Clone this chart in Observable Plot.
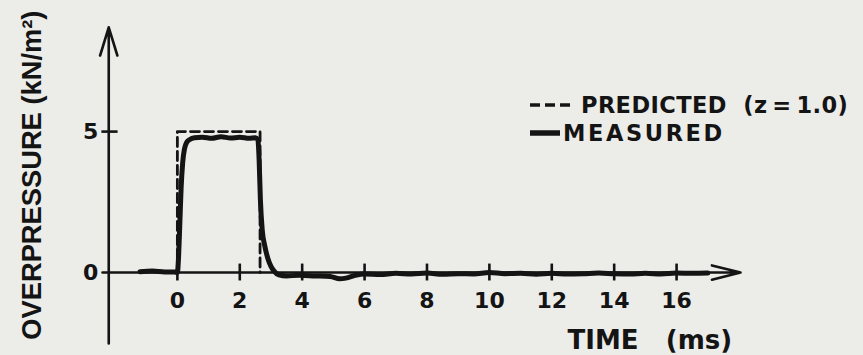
<!DOCTYPE html>
<html>
<head>
<meta charset="utf-8">
<script src="https://cdn.jsdelivr.net/npm/d3@7"></script>
<script src="https://cdn.jsdelivr.net/npm/@observablehq/plot@0.6"></script>
<style>
  html, body { margin: 0; padding: 0; background: #ecece9; }
  #wrap { position: relative; width: 863px; height: 355px; overflow: hidden; }
  #legend { position: absolute; left: 528px; top: 91px; font-family: "DejaVu Sans", sans-serif; font-weight: bold; color: #141414; font-size: 22.5px; letter-spacing: 0.4px; line-height: 28px; white-space: nowrap; }
  #legend .row { display: flex; align-items: center; }
  #legend svg { margin-right: 7px; }
  #legend .row.m svg { margin-right: 3px; }
  #legend .row.m span { letter-spacing: 2.6px; }
</style>
</head>
<body>
<div id="wrap"><div id="legend"></div></div>
<script>
// ---- data ----
const xTicks = [0, 2, 4, 6, 8, 10, 12, 14, 16];
const yTicks = [0, 5];
const xLabel = "TIME\u00a0\u00a0\u00a0(ms)";
const yLabel = "OVERPRESSURE (kN/m\u00b2)";
const legendLabels = ["PREDICTED\u00a0\u00a0(z\u2009=\u20091.0)", "MEASURED"];

// predicted (dashed) pulse
const timePredicted = [0, 0, 2.65, 2.65];
const pressPredicted = [0, 5, 5, 0];

// measured trace
const timeMeasured = [-1.2, -0.8, -0.4, -0.1, 0.0, 0.04, 0.08, 0.12, 0.17, 0.23, 0.3, 0.4, 0.55, 0.8, 1.1, 1.4, 1.7, 2.0, 2.3, 2.5, 2.58, 2.62, 2.66, 2.72, 2.8, 2.9, 3.0, 3.1, 3.25, 3.5, 3.9, 4.4, 4.9, 5.2, 5.4, 5.7, 6.0, 6.5, 7.0, 7.5, 8.0, 8.5, 9.0, 9.5, 10.0, 10.5, 11.0, 11.5, 12.0, 12.5, 13.0, 13.5, 14.0, 14.5, 15.0, 15.5, 16.0, 16.5, 17.0];
const pressMeasured = [0.03, 0.05, 0.02, 0.02, 0.0, 0.6, 1.8, 3.0, 3.9, 4.4, 4.62, 4.72, 4.78, 4.8, 4.76, 4.82, 4.77, 4.8, 4.76, 4.78, 4.72, 4.0, 2.6, 1.5, 0.95, 0.5, 0.22, 0.05, -0.08, -0.12, -0.1, -0.12, -0.14, -0.22, -0.2, -0.1, -0.05, -0.07, -0.03, -0.05, -0.02, -0.06, -0.04, -0.05, 0.0, -0.04, -0.03, -0.06, -0.03, -0.05, -0.04, -0.02, -0.04, -0.05, -0.03, -0.05, -0.02, -0.03, -0.02];

// axis extents (data units)
const xAxisSpan = [-2.4, 18.05];
const yAxisSpan = [-2.52, 8.7];
const yAxisAt = -2.2;

const ink = "#141414";
const font = "'DejaVu Sans', sans-serif";

const measured = timeMeasured.map((t, i) => ({t, p: pressMeasured[i]}));
const predicted = timePredicted.map((t, i) => ({t, p: pressPredicted[i]}));

const chart = Plot.plot({
  width: 863,
  height: 355,
  marginLeft: 102,
  marginRight: 121.4,
  marginTop: 24,
  marginBottom: 9.7,
  x: {domain: [-2.4, 18.1], axis: null},
  y: {domain: [-2.6, 8.8], axis: null},
  style: {background: "#ecece9", color: ink, fontFamily: font, overflow: "visible"},
  marks: [
    // axes with arrow heads
    Plot.arrow([0], {x1: xAxisSpan[0], x2: xAxisSpan[1], y1: 0, y2: 0, stroke: ink, strokeWidth: 2.6, headLength: 17, headAngle: 28}),
    Plot.arrow([0], {x1: yAxisAt, x2: yAxisAt, y1: yAxisSpan[0], y2: yAxisSpan[1], stroke: ink, strokeWidth: 2.6, headLength: 17, headAngle: 34}),
    // tick marks
    Plot.ruleX(xTicks, {x: d => d, y1: -0.3, y2: 0.3, stroke: ink, strokeWidth: 2.6}),
    Plot.ruleY(yTicks.filter(d => d !== 0), {y: d => d, x1: yAxisAt - 0.22, x2: yAxisAt + 0.3, stroke: ink, strokeWidth: 2.6}),
    // tick labels
    Plot.text(xTicks, {x: d => d, y: 0, dy: 28, text: d => String(d), fontSize: 22, fontWeight: "bold", fill: ink}),
    Plot.text(yTicks, {x: yAxisAt, y: d => d, dx: -18, text: d => String(d), fontSize: 22, fontWeight: "bold", fill: ink}),
    // series
    Plot.line(predicted, {x: "t", y: "p", stroke: ink, strokeWidth: 2.8, strokeDasharray: "9,5"}),
    Plot.line(measured, {x: "t", y: "p", stroke: ink, strokeWidth: 5, curve: "monotone-x"}),
    // axis titles
    Plot.text([xLabel], {frameAnchor: "bottom-right", textAnchor: "end", lineAnchor: "bottom", dx: -10, dy: 3, text: d => d, fontSize: 26, fontWeight: "bold", fill: ink}),
    Plot.text([yLabel], {frameAnchor: "left", textAnchor: "middle", lineAnchor: "middle", rotate: -90, dx: -70, dy: -10, text: d => d, fontSize: 27.3, fontWeight: "bold", fontFamily: "'Liberation Sans', Arial, sans-serif", fill: ink})
  ]
});

const wrap = document.getElementById("wrap");
wrap.insertBefore(chart, wrap.firstChild);

// legend
const legend = document.getElementById("legend");
const sample = (dashed) => {
  const w = dashed ? 46 : 32;
  const s = d3.create("svg").attr("width", w).attr("height", 12);
  s.append("line").attr("x1", 2).attr("x2", w).attr("y1", 6).attr("y2", 6)
    .attr("stroke", ink).attr("stroke-width", dashed ? 3.4 : 5.5)
    .attr("stroke-dasharray", dashed ? "10,5" : null);
  return s.node();
};
legendLabels.forEach((lab, i) => {
  const row = document.createElement("div");
  row.className = i === 1 ? "row m" : "row";
  row.appendChild(sample(i === 0));
  const span = document.createElement("span");
  span.textContent = lab;
  row.appendChild(span);
  legend.appendChild(row);
});
</script>
</body>
</html>
